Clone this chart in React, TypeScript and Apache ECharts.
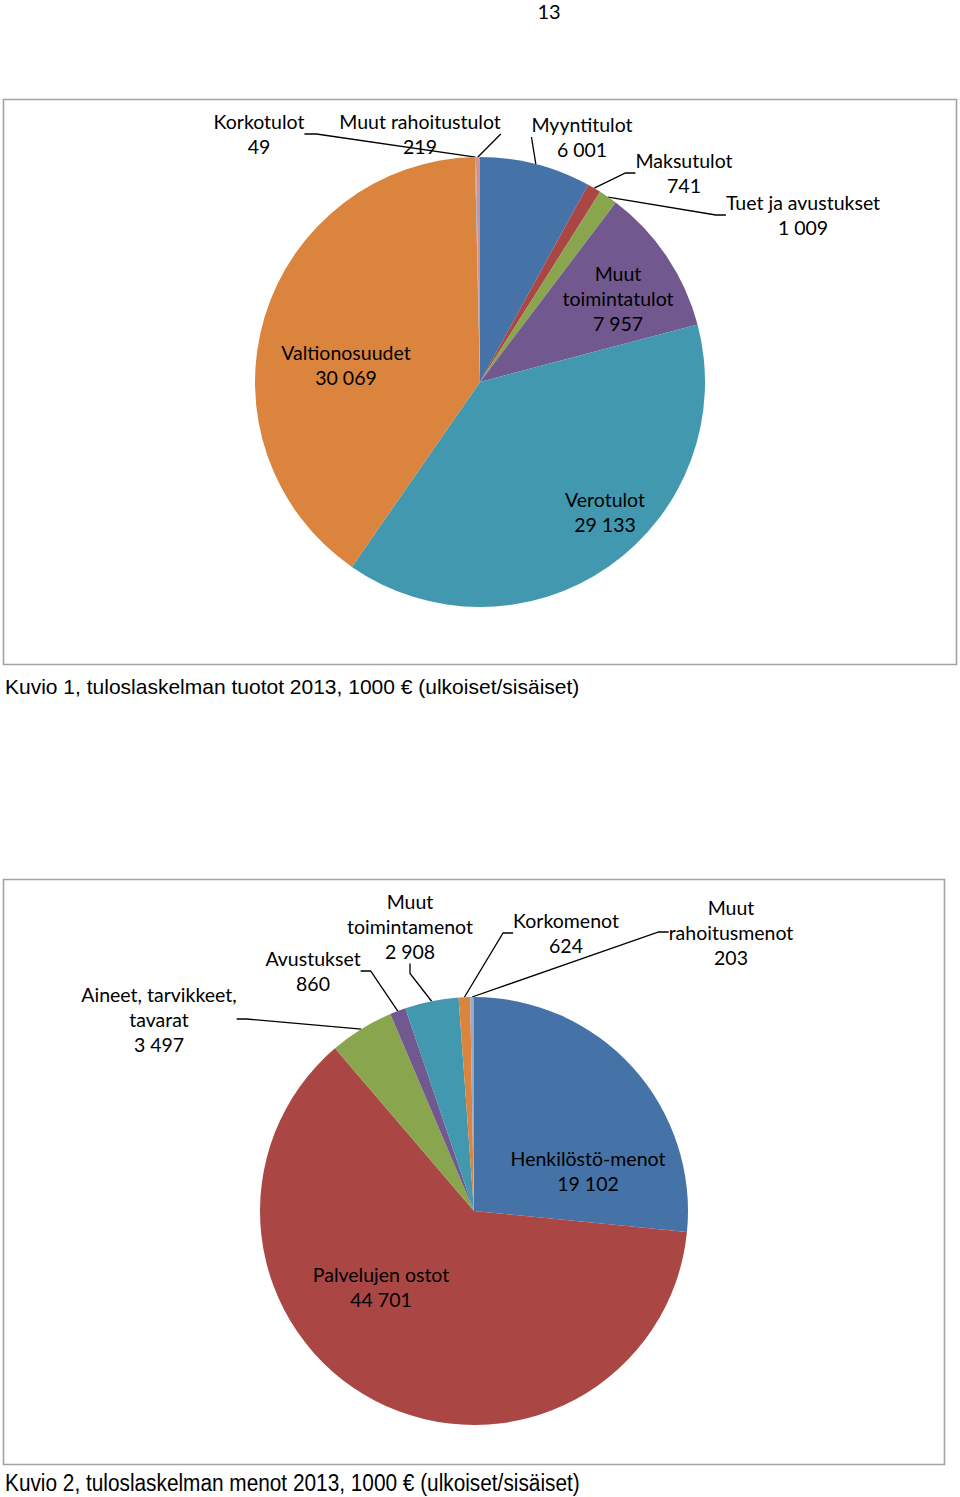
import React, { useEffect, useRef } from "react";
import * as echarts from "echarts";

// ---- Data ----
const incomeNames = [
  "Myyntitulot",
  "Maksutulot",
  "Tuet ja avustukset",
  "Muut\ntoimintatulot",
  "Verotulot",
  "Valtionosuudet",
  "Korkotulot",
  "Muut rahoitustulot",
];
const incomeValues = [6001, 741, 1009, 7957, 29133, 30069, 49, 219];

const expenseNames = [
  "Henkilöstö-menot",
  "Palvelujen ostot",
  "Aineet, tarvikkeet,\ntavarat",
  "Avustukset",
  "Muut\ntoimintamenot",
  "Korkomenot",
  "Muut\nrahoitusmenot",
];
const expenseValues = [19102, 44701, 3497, 860, 2908, 624, 203];

const pageNumber = "13";
const caption1 = "Kuvio 1, tuloslaskelman tuotot 2013, 1000 € (ulkoiset/sisäiset)";
const caption2 = "Kuvio 2, tuloslaskelman menot 2013, 1000 € (ulkoiset/sisäiset)";

// ---- Styling / layout ----
const sliceColors = [
  "#4572A7",
  "#AA4643",
  "#89A54E",
  "#71588F",
  "#4198AF",
  "#DB843D",
  "#93A9CF",
  "#D19392",
];

const incomeLabelPos = [
  [582, 137],
  [684, 173],
  [803, 215],
  [618, 298],
  [605, 512],
  [346, 365],
  [259, 134],
  [420, 134],
];
const incomeLeader = [true, true, true, false, false, false, true, true];
const incomeLen2 = [10, 10, 10, 0, 0, 0, 12, 0];

const expenseLabelPos = [
  [588, 1171],
  [381, 1287],
  [159, 1019],
  [313, 971],
  [410, 926],
  [566, 933],
  [731, 932],
];
const expenseLeader = [false, false, true, true, true, true, true];
const expenseLen2 = [0, 0, 10, 10, 10, 10, 10];

const fmt = (v: number) => String(v).replace(/\B(?=(\d{3})+(?!\d))/g, " ");

const labelFont = "Lato, 'Open Sans', sans-serif";

function buildData(names: string[], values: number[], leader: boolean[], len2: number[]) {
  return names.map((n, i) => ({
    name: n,
    value: values[i],
    itemStyle: { color: sliceColors[i] },
    labelLine: {
      show: leader[i],
      length: 10,
      length2: len2[i],
      lineStyle: { color: "#000", width: 1.3 },
    },
  }));
}

export default function App() {
  const ref = useRef<HTMLDivElement>(null);
  useEffect(() => {
    if (!ref.current) return;
    const chart = echarts.init(ref.current, undefined, { renderer: "svg" });
    const labelCommon = {
      show: true,
      position: "outside",
      color: "#000",
      fontFamily: labelFont,
      fontSize: 19.5,
      lineHeight: 25,
      align: "center",
      formatter: (p: any) => `${p.name}\n${fmt(p.value)}`,
    };
    const makeLayout = (pos: number[][]) => (params: any) => {
      const p = pos[params.dataIndex];
      return { x: p[0], y: p[1], align: "center", verticalAlign: "middle" };
    };
    chart.setOption({
      animation: false,
      backgroundColor: "#fff",
      graphic: [
        {
          type: "text",
          x: 549,
          y: 1,
          style: {
            text: pageNumber,
            font: "20px Lato, sans-serif",
            fill: "#000",
            align: "center",
            verticalAlign: "top",
          },
        },
        {
          type: "rect",
          shape: { x: 3.5, y: 99.5, width: 953, height: 565 },
          style: { fill: "none", stroke: "#a3a3a3", lineWidth: 1.6 },
          z: 0,
        },
        {
          type: "rect",
          shape: { x: 3.5, y: 879.5, width: 941, height: 585 },
          style: { fill: "none", stroke: "#a3a3a3", lineWidth: 1.6 },
          z: 0,
        },
        {
          type: "text",
          x: 5,
          y: 686,
          style: {
            text: caption1,
            font: "21px 'Liberation Sans', Arial, sans-serif",
            fill: "#000",
            align: "left",
            verticalAlign: "middle",
          },
        },
        {
          type: "text",
          x: 5,
          y: 1483,
          scaleX: 0.905,
          style: {
            text: caption2,
            font: "23px 'Liberation Sans', Arial, sans-serif",
            fill: "#000",
            align: "left",
            verticalAlign: "middle",
          },
        },
      ],
      series: [
        {
          type: "pie",
          center: [480, 382],
          radius: 225,
          startAngle: 90,
          clockwise: true,
          avoidLabelOverlap: false,
          minShowLabelAngle: 0,
          itemStyle: { borderWidth: 0 },
          label: labelCommon,
          labelLayout: makeLayout(incomeLabelPos),
          emphasis: { disabled: true },
          data: buildData(incomeNames, incomeValues, incomeLeader, incomeLen2),
        },
        {
          type: "pie",
          center: [474, 1211],
          radius: 214,
          startAngle: 90,
          clockwise: true,
          avoidLabelOverlap: false,
          minShowLabelAngle: 0,
          itemStyle: { borderWidth: 0 },
          label: labelCommon,
          labelLayout: makeLayout(expenseLabelPos),
          emphasis: { disabled: true },
          data: buildData(expenseNames, expenseValues, expenseLeader, expenseLen2),
        },
      ],
    });
    return () => chart.dispose();
  }, []);
  return (
    <div
      ref={ref}
      style={{ position: "absolute", left: 0, top: 0, width: 960, height: 1497 }}
    />
  );
}
